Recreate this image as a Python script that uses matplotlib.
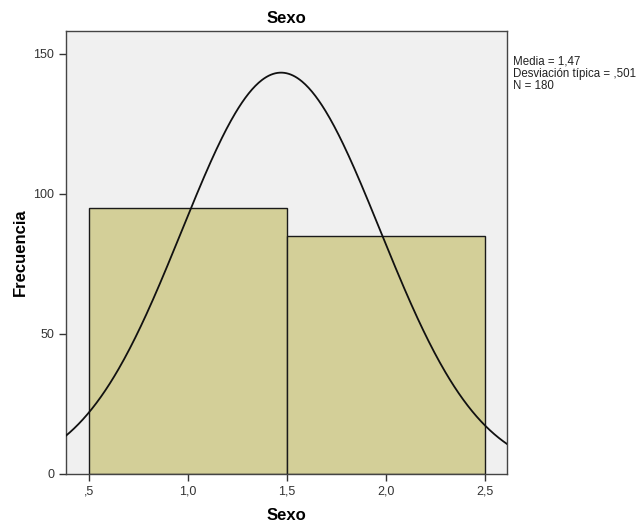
import numpy as np
import matplotlib
matplotlib.use("Agg")
import matplotlib.pyplot as plt

plt.rcParams["font.family"] = ["Liberation Sans", "DejaVu Sans"]

bin_edges = [0.5, 1.5, 2.5]
counts = [95, 85]
media = 1.47
desv = 0.501
n = 180
xticks = [0.5, 1.0, 1.5, 2.0, 2.5]
xticklabels = [",5", "1,0", "1,5", "2,0", "2,5"]
yticks = [0, 50, 100, 150]

fig = plt.figure(figsize=(6.43, 5.30), dpi=100)
ax = fig.add_axes([66 / 643, 56 / 530, 441 / 643, 443 / 530])
ax.set_facecolor("#f0f0f0")

widths = np.diff(bin_edges)
ax.bar(bin_edges[:-1], counts, width=widths, align="edge",
       color="#d3cf98", edgecolor="#1a1a1a", linewidth=1.0, zorder=2)

# curva normal escalada a frecuencias
xs = np.linspace(0.38, 2.62, 400)
bw = widths[0]
ys = n * bw / (desv * np.sqrt(2 * np.pi)) * np.exp(-0.5 * ((xs - media) / desv) ** 2)
ax.plot(xs, ys, color="#111111", linewidth=1.3, zorder=3)

ax.set_xlim(0.384, 2.611)
ax.set_ylim(0, 158.2)
ax.set_xticks(xticks)
ax.set_xticklabels(xticklabels)
ax.set_yticks(yticks)
ax.tick_params(direction="out", length=5, width=1, labelsize=9, colors="#333333")
for s in ax.spines.values():
    s.set_color("#444444")
    s.set_linewidth(1.0)

ax.set_title("Sexo", fontsize=12, fontweight="bold", pad=6)
ax.set_xlabel("Sexo", fontsize=12, fontweight="bold", labelpad=7)
ax.set_ylabel("Frecuencia", fontsize=12, fontweight="bold", labelpad=4)

fig.text(513 / 643, 1 - 56 / 530,
         "Media = 1,47\nDesviación típica = ,501\nN = 180",
         fontsize=8.3, va="top", ha="left", linespacing=0.98, color="#222222")

fig.savefig("out.png", dpi=100)
